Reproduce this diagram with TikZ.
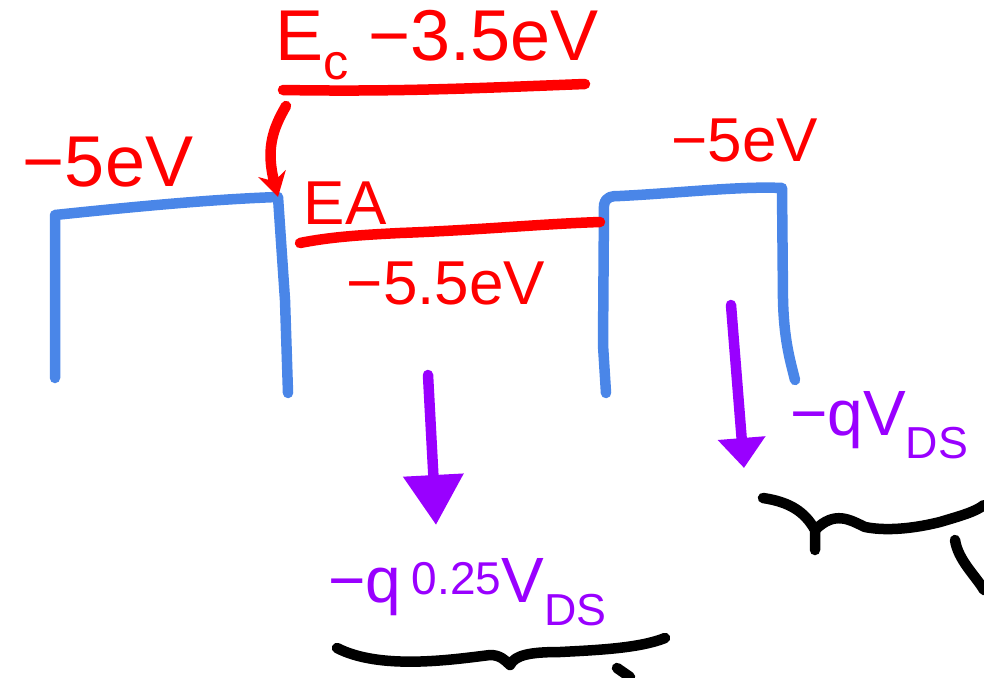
\documentclass[tikz,border=0pt]{standalone}
\usepackage{fontspec}
\setmainfont{Liberation Sans}
\usetikzlibrary{arrows.meta}
\definecolor{skblue}{HTML}{4A86E8}
\definecolor{skred}{HTML}{FF0000}
\definecolor{skpurple}{HTML}{9900FF}
\begin{document}
\begin{tikzpicture}[x=1pt,y=-1pt,line cap=round,line join=round]
\tikzset{
  bluestroke/.style={draw=skblue,line width=10.5pt},
  redstroke/.style={draw=skred,line width=10.5pt},
  purplestroke/.style={draw=skpurple,line width=10.5pt},
  blackstroke/.style={draw=black,line width=10.5pt},
  redtxt/.style={text=skred,font=\fontsize{62}{62}\selectfont,inner sep=0pt},
  bigredtxt/.style={text=skred,font=\fontsize{72}{72}\selectfont,inner sep=0pt},
  purpletxt/.style={text=skpurple,font=\fontsize{64}{64}\selectfont,inner sep=0pt},
}
\useasboundingbox (0,0) rectangle (984,677);
% left well
\coordinate (l1) at (55,378);
\coordinate (l2) at (55,215);
\coordinate (l3) at (278,197);
\coordinate (l4) at (288,393);
\draw[bluestroke] (l1) -- (l2) .. controls (150,205) and (220,199) .. (l3) -- (285,300) -- (l4);
% right well
\coordinate (r1) at (606,393);
\coordinate (r2) at (604,205);
\coordinate (r3) at (782,188);
\coordinate (r4) at (795,380);
\draw[bluestroke] (r1) -- (603,345) -- (r2) .. controls (606,196) and (612,196) .. (620,196) .. controls (680,193) and (740,186) .. (r3) -- (783,300) .. controls (784,340) and (790,360) .. (r4);
% top label
\node[bigredtxt] (ec) at (437,45) {E\textsubscript{c} −3.5eV};
\coordinate (u1) at (283,90);
\coordinate (u2) at (585,84);
\draw[redstroke] (u1) .. controls (400,92) and (480,88) .. (u2);
\coordinate (a1) at (286,106);
\draw[redstroke,-{Stealth[length=24pt,width=28pt]}] (a1) .. controls (272,130) and (266,150) .. (l3);
% -5eV left
\node[bigredtxt] (lv) at (108,162) {−5eV};
% EA line
\node[redtxt] (ea) at (345,203) {EA};
\coordinate (e1) at (300,243);
\coordinate (e2) at (600,222);
\draw[redstroke] (e1) .. controls (330,237) and (360,235) .. (400,233) .. controls (480,230) and (540,224) .. (e2);
\node[redtxt] (ie) at (446,283) {−5.5eV};
% -5eV right
\node[redtxt] (rv) at (745,140) {−5eV};
% purple arrows
\coordinate (p1) at (428,375);
\coordinate (p2) at (436,525);
\draw[purplestroke,-{Triangle[length=50pt,width=58pt]}] (p1) -- (p2);
\node[purpletxt,anchor=west] (q1) at (328,592) {−q\,\raisebox{8pt}{\fontsize{46}{46}\selectfont 0.25}V\textsubscript{DS}};
\coordinate (p3) at (731,305);
\coordinate (p4) at (744,468);
\draw[purplestroke,-{Triangle[length=30pt,width=46pt]}] (p3) -- (p4);
\node[purpletxt,anchor=west] (q2) at (790,425) {−qV\textsubscript{DS}};
% braces
\coordinate (b1) at (337,648);
\coordinate (b2) at (510,665);
\coordinate (b3) at (665,638);
\draw[blackstroke] (b1) .. controls (380,670) and (450,660) .. (490,655) .. controls (500,655) and (505,660) .. (b2) .. controls (515,655) and (530,652) .. (560,652) .. controls (600,650) and (640,648) .. (b3);
\draw[blackstroke] (617,668) -- (630,677);
\coordinate (c1) at (763,498);
\coordinate (c2) at (815,550);
\coordinate (c3) at (984,505);
\draw[blackstroke] (c1) .. controls (790,502) and (805,512) .. (815,530) -- (c2);
\draw[blackstroke] (815,530) .. controls (835,510) and (850,520) .. (865,527) .. controls (890,532) and (920,527) .. (940,522) .. controls (960,516) and (975,512) .. (c3);
\draw[blackstroke] (955,540) .. controls (958,560) and (975,575) .. (984,590);
\end{tikzpicture}
\end{document}
